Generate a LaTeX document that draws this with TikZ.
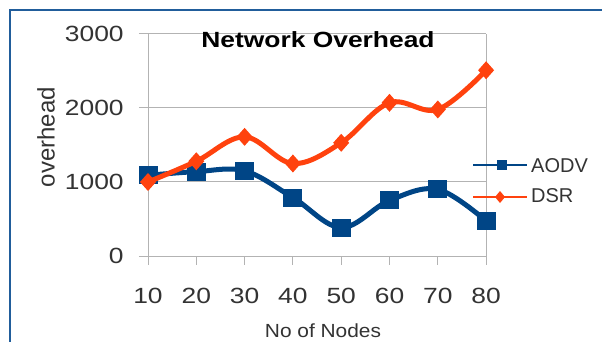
\documentclass[tikz,border=0pt]{standalone}
\usepackage{fontspec}
\setmainfont{Liberation Sans}
\newfontfamily\wideFont[FakeStretch=1.2]{Liberation Sans}
\newfontfamily\axisFont[FakeStretch=1.1]{Liberation Sans}
\definecolor{aodvBlue}{HTML}{004586}
\definecolor{dsrOrange}{HTML}{FF420E}
\definecolor{frameBlue}{HTML}{215D9B}
\definecolor{gridGray}{HTML}{B3B3B3}
\definecolor{textGray}{HTML}{333333}

\begin{document}
\begin{tikzpicture}[
    x=1pt, y=-1pt,
    every node/.style={inner sep=0pt, text=textGray},
    tick label/.style={font=\wideFont\fontsize{22}{22}\selectfont},
    legend label/.style={anchor=west, font=\fontsize{20}{20}\selectfont},
    grid line/.style={gridGray, line width=1pt},
    aodv line/.style={aodvBlue, line width=5pt, line join=round},
    dsr line/.style={dsrOrange, line width=5pt, line join=round},
  ]
  \useasboundingbox (0,0) rectangle (602,342);

  % Chart frame
  \draw[frameBlue, line width=2pt] (10,342) -- (10,10) -- (602,10);

  % Plot area (categories 0..7, values in overhead units)
  \begin{scope}[shift={(148,256)}, x=48.3pt, y=0.074pt]
    \foreach \v in {0,1000,2000,3000}
      \draw[grid line] (-0.19,\v) -- (7,\v);
    \foreach \i in {0,...,7}
      \draw[grid line] (\i,0) -- (\i,-120);
    \draw[grid line] (0,0) -- (0,3000);
    \draw[grid line] (7,0) -- (7,3000);

    % Axis labels
    \foreach \v in {0,1000,2000,3000}
      \node[tick label, anchor=east] (yl\v) at (-0.5,\v) {\v};
    \foreach \n [count=\i from 0] in {10,20,...,80}
      \node[tick label] (xl\n) at (\i,-540) {\n};

    % AODV
    \draw[aodv line] plot[smooth, tension=0.6] coordinates
      {(0,1090) (1,1140) (2,1150) (3,790) (4,385) (5,750) (6,900) (7,473)};
    \foreach \i/\v in {0/1090,1/1140,2/1150,3/790,4/385,5/750,6/900,7/473}
      \fill[aodvBlue] (\i,\v) +(-9.5pt,-9pt) rectangle +(9.5pt,9pt);

    % DSR
    \draw[dsr line] plot[smooth, tension=0.6] coordinates
      {(0,1000) (1,1280) (2,1610) (3,1250) (4,1530) (5,2070) (6,1980) (7,2510)};
    \foreach \i/\v in {0/1000,1/1280,2/1610,3/1250,4/1530,5/2070,6/1980,7/2510}
      \fill[dsrOrange] (\i,\v) +(0,9pt) -- +(8pt,0) -- +(0,-9pt) -- +(-8pt,0) -- cycle;
  \end{scope}

  % Titles
  \node[font=\wideFont\bfseries\fontsize{22}{22}\selectfont, text=black] (title) at (318,40) {Network Overhead};
  \node[rotate=90, font=\fontsize{24}{24}\selectfont] (ytitle) at (46,137) {overhead};
  \node[font=\axisFont\fontsize{19}{19}\selectfont] (xtitle) at (323,331) {No of Nodes};

  % Legend
  \coordinate (aodvA) at (473,165);
  \coordinate (aodvB) at (527,165);
  \coordinate (dsrA) at (473,197);
  \coordinate (dsrB) at (527,197);
  \draw[aodvBlue, line width=1.5pt] (aodvA) -- (aodvB);
  \fill[aodvBlue] (497,160) rectangle (507,170);
  \node[legend label] (legAODV) at (531,166) {AODV};
  \draw[dsrOrange, line width=1.5pt] (dsrA) -- (dsrB);
  \fill[dsrOrange] (500,191) -- (505,197) -- (500,203) -- (495,197) -- cycle;
  \node[legend label] (legDSR) at (531,196) {DSR};
\end{tikzpicture}
\end{document}
